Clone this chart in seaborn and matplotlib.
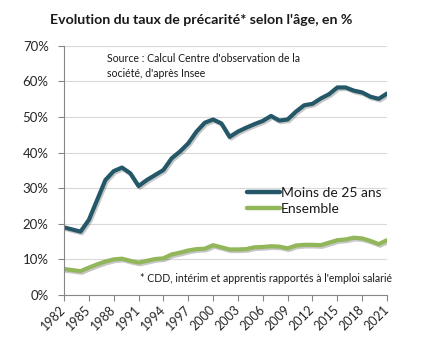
import matplotlib
matplotlib.use("Agg")
import matplotlib.pyplot as plt
import matplotlib.patheffects as pe
from matplotlib.ticker import FuncFormatter
from matplotlib.lines import Line2D
import seaborn as sns
import pandas as pd

years = list(range(1982, 2022))
moins_25 = [19.0, 18.4, 17.8, 21.1, 26.7, 32.3, 34.8, 35.8, 34.2, 30.6,
            32.3, 33.7, 35.1, 38.4, 40.3, 42.6, 45.9, 48.4, 49.3, 48.2,
            44.4, 45.9, 47.0, 48.0, 48.9, 50.3, 49.0, 49.3, 51.5, 53.3,
            53.7, 55.2, 56.4, 58.3, 58.3, 57.4, 56.9, 55.7, 55.1, 56.6]
ensemble = [7.3, 7.0, 6.7, 7.7, 8.6, 9.4, 10.0, 10.2, 9.6, 9.1,
            9.6, 10.1, 10.3, 11.4, 11.9, 12.5, 12.9, 13.0, 14.0, 13.4,
            12.8, 12.8, 12.9, 13.4, 13.5, 13.7, 13.6, 13.1, 13.9, 14.1,
            14.1, 14.0, 14.7, 15.4, 15.6, 16.1, 15.9, 15.2, 14.3, 15.4]
series_names = ["Moins de 25 ans", "Ensemble"]
colors = ["#245868", "#92B65A"]
xtick_years = list(range(1982, 2022, 3))
yticks = [0, 10, 20, 30, 40, 50, 60, 70]

title = "Evolution du taux de précarité* selon l'âge, en %"
source = "Source : Calcul Centre d'observation de la\nsociété, d'après Insee"
note = "* CDD, intérim et apprentis rapportés à l'emploi salarié"

df = pd.concat([
    pd.DataFrame({"annee": years, "taux": moins_25, "serie": series_names[0]}),
    pd.DataFrame({"annee": years, "taux": ensemble, "serie": series_names[1]}),
])

sns.set_style("white")
plt.rcParams["font.family"] = ["Lato", "DejaVu Sans"]

W, H = 421, 345
fig = plt.figure(figsize=(W / 100, H / 100), dpi=100)
ax = fig.add_axes([64 / W, 1 - 295 / H, (387 - 64) / W, (295 - 45.8) / H])

sns.lineplot(data=df, x="annee", y="taux", hue="serie", palette=colors,
             hue_order=series_names, linewidth=3.0, ax=ax, legend=False,
             solid_capstyle="round", solid_joinstyle="round")
for line in ax.get_lines():
    line.set_path_effects([pe.SimpleLineShadow(offset=(1, -1.2), shadow_color="#000000", alpha=0.22),
                           pe.Normal()])

ax.set_xlim(1982, 2021)
ax.set_ylim(0, 70)
ax.set_xticks(xtick_years)
ax.set_xticklabels([str(y) for y in xtick_years], rotation=45, ha="right",
                   va="center", rotation_mode="anchor", fontsize=9, color="#262626")
ax.set_yticks(yticks)
ax.yaxis.set_major_formatter(FuncFormatter(lambda v, p: f"{int(v)}%"))
ax.tick_params(axis="y", labelsize=9.5, colors="#262626", length=4, direction="out",
               color="#868686", width=0.8, pad=7, left=True)
ax.tick_params(axis="x", length=4, direction="out", color="#868686", width=0.8,
               pad=5, bottom=True)
ax.set_xlabel("")
ax.set_ylabel("")
ax.grid(axis="y", color="#D9D9D9", linewidth=0.8)
ax.set_axisbelow(True)
for s in ["top", "right"]:
    ax.spines[s].set_visible(False)
for s in ["left", "bottom"]:
    ax.spines[s].set_color("#868686")
    ax.spines[s].set_linewidth(0.8)

fig.text(201 / W, 1 - 20 / H, title, ha="center", va="center",
         fontsize=10.2, fontweight="bold", color="#1a1a1a")
fig.text(107 / W, 1 - 53 / H, source, ha="left", va="top", fontsize=7.6,
         color="#1a1a1a", linespacing=1.45)
fig.text(140 / W, 1 - 279 / H, note, ha="left", va="center", fontsize=7.6,
         color="#1a1a1a")

handles = [Line2D([0], [0], color=c, linewidth=3.2, solid_capstyle="round") for c in colors]
leg = fig.legend(handles, series_names, loc="center left",
                 bbox_to_anchor=(240 / W, 1 - 201 / H), frameon=False,
                 fontsize=10, handlelength=2.4, handletextpad=0.05,
                 labelspacing=0.3, borderpad=0)
for t in leg.get_texts():
    t.set_color("#1a1a1a")

fig.savefig("out.png", dpi=100)
